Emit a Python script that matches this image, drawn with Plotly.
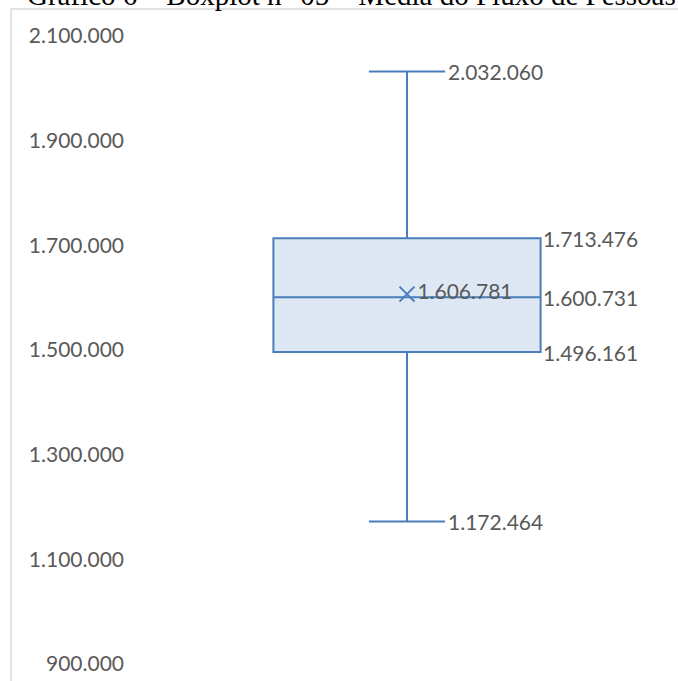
import plotly.graph_objects as go

# ---- data ----
category = ["Média do Fluxo de Pessoas"]
lower_fence = [1172464]
q1_vals = [1496161]
median_vals = [1600731]
q3_vals = [1713476]
upper_fence = [2032060]
mean_vals = [1606781]
tick_vals = [900000, 1100000, 1300000, 1500000, 1700000, 1900000, 2100000]
title_text = "Gráfico 6 – Boxplot n° 05 – Média do Fluxo de Pessoas"


def fmt(v):
    return f"{v:,}".replace(",", ".")


BLUE = "#4A7EBB"
FILL = "#DEE8F5"
GRAY = "#595959"
LABEL_FONT = dict(family="Lato, Open Sans, sans-serif", size=21, color=GRAY)

BOX_W = 0.493
WHISK = 0.285

fig = go.Figure()
fig.add_trace(go.Box(
    x=[0],
    q1=q1_vals, median=median_vals, q3=q3_vals,
    lowerfence=lower_fence, upperfence=upper_fence,
    width=BOX_W, whiskerwidth=WHISK,
    line=dict(color=BLUE, width=2), fillcolor=FILL,
    boxpoints=False, showlegend=False, hoverinfo="skip",
))
fig.add_trace(go.Scatter(
    x=[0], y=mean_vals, mode="markers+text",
    marker=dict(symbol="x-thin", size=15, line=dict(color=BLUE, width=2), color=BLUE),
    text=[fmt(mean_vals[0])], textposition="middle right",
    textfont=LABEL_FONT, showlegend=False, hoverinfo="skip",
))

annotations = []
for v in (q3_vals[0], median_vals[0], q1_vals[0]):
    annotations.append(dict(x=BOX_W / 2, y=v, xref="x", yref="y", text=fmt(v),
                            showarrow=False, xanchor="left", yanchor="middle",
                            xshift=0, font=LABEL_FONT))
for v in (upper_fence[0], lower_fence[0]):
    annotations.append(dict(x=BOX_W * WHISK / 2, y=v, xref="x", yref="y", text=fmt(v),
                            showarrow=False, xanchor="left", yanchor="middle",
                            xshift=1, font=LABEL_FONT))
annotations.append(dict(x=0.3985, y=1.0653, xref="paper", yref="paper", text=title_text,
                        showarrow=False, xanchor="center", yanchor="middle",
                        font=dict(family="Liberation Serif, Times New Roman, serif", size=29, color="black")))

fig.update_layout(
    width=678, height=681,
    margin=dict(l=136, r=0, t=36, b=17),
    paper_bgcolor="white", plot_bgcolor="white",
    separators=",.",
    showlegend=False,
    annotations=annotations,
    shapes=[dict(type="rect", xref="paper", yref="paper",
                 x0=-0.2306, x1=1.2, y0=-0.3, y1=1.043,
                 line=dict(color="#D9D9D9", width=1.5), fillcolor="rgba(0,0,0,0)", layer="below")],
    xaxis=dict(range=[-0.5, 0.5], showticklabels=False, showgrid=False, zeroline=False,
               showline=False, fixedrange=True),
    yaxis=dict(range=[900000, 2100000], tickvals=tick_vals, tickformat=",.0f",
               showgrid=False, zeroline=False, showline=False,
               tickfont=LABEL_FONT, ticks="", ticklabelstandoff=11),
)

fig.write_html("out.html")
